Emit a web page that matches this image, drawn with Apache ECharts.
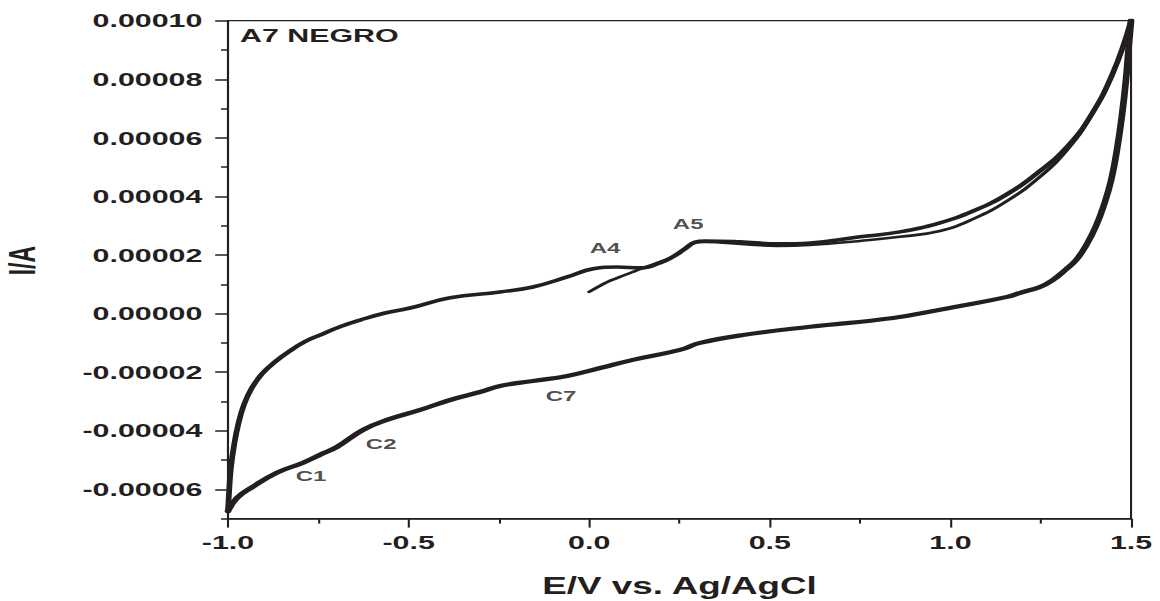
<!DOCTYPE html>
<html>
<head>
<meta charset="utf-8">
<script src="https://cdn.jsdelivr.net/npm/echarts@6/dist/echarts.min.js"></script>
<style>
html,body{margin:0;padding:0;background:#fff;overflow:hidden;}
#wrap{width:1160px;height:601px;overflow:hidden;position:relative;}
#chart{width:725px;height:601px;transform:scaleX(1.6);transform-origin:0 0;}
</style>
</head>
<body>
<div id="wrap"><div id="chart"></div></div>
<script>
// ---- data (E in V vs Ag/AgCl, I in A) ----
const scan1E = [0.00, 0.03, 0.05, 0.085, 0.12, 0.15, 0.195, 0.23, 0.265, 0.29, 0.32, 0.42, 0.52, 0.61, 0.75, 0.86, 0.971, 1.063, 1.157, 1.248, 1.323, 1.386, 1.45, 1.50];
const scan1I = [0.74e-5, 0.95e-5, 1.08e-5, 1.25e-5, 1.42e-5, 1.56e-5, 1.76e-5, 1.94e-5, 2.21e-5, 2.41e-5, 2.45e-5, 2.38e-5, 2.31e-5, 2.34e-5, 2.48e-5, 2.62e-5, 2.82e-5, 3.23e-5, 3.85e-5, 4.67e-5, 5.59e-5, 6.68e-5, 8.18e-5, 10.0e-5];

const reverseE = [1.50, 1.494, 1.486, 1.475, 1.461, 1.445, 1.425, 1.403, 1.378, 1.35, 1.32, 1.284, 1.248, 1.193, 1.157, 1.027, 0.971, 0.841, 0.611, 0.426, 0.307, 0.251, 0.121, 0.03, -0.061, -0.156, -0.247, -0.30, -0.385, -0.468, -0.56, -0.626, -0.698, -0.745, -0.792, -0.864, -0.931, -0.975, -1.00];
const reverseI = [10.0e-5, 9.17e-5, 7.98e-5, 6.78e-5, 5.59e-5, 4.56e-5, 3.71e-5, 2.99e-5, 2.38e-5, 1.86e-5, 1.51e-5, 1.15e-5, 0.91e-5, 0.71e-5, 0.57e-5, 0.26e-5, 0.13e-5, -0.15e-5, -0.45e-5, -0.73e-5, -1.00e-5, -1.24e-5, -1.58e-5, -1.86e-5, -2.13e-5, -2.30e-5, -2.47e-5, -2.67e-5, -2.95e-5, -3.29e-5, -3.63e-5, -3.97e-5, -4.55e-5, -4.82e-5, -5.09e-5, -5.43e-5, -5.91e-5, -6.29e-5, -6.75e-5];

const scan2E = [-1.00, -0.997, -0.992, -0.983, -0.972, -0.956, -0.934, -0.906, -0.870, -0.828, -0.787, -0.745, -0.690, -0.634, -0.565, -0.496, -0.385, -0.247, -0.156, -0.061, 0.011, 0.077, 0.141, 0.196, 0.232, 0.265, 0.293, 0.321, 0.417, 0.52, 0.611, 0.75, 0.86, 0.971, 1.063, 1.157, 1.248, 1.323, 1.386, 1.45, 1.50];
const scan2I = [-6.75e-5, -6.09e-5, -5.27e-5, -4.48e-5, -3.80e-5, -3.12e-5, -2.54e-5, -2.06e-5, -1.65e-5, -1.27e-5, -0.96e-5, -0.73e-5, -0.45e-5, -0.22e-5, 0.02e-5, 0.19e-5, 0.54e-5, 0.74e-5, 0.91e-5, 1.25e-5, 1.53e-5, 1.59e-5, 1.56e-5, 1.73e-5, 1.94e-5, 2.21e-5, 2.44e-5, 2.48e-5, 2.45e-5, 2.38e-5, 2.41e-5, 2.62e-5, 2.79e-5, 3.10e-5, 3.50e-5, 4.08e-5, 4.87e-5, 5.69e-5, 6.71e-5, 8.22e-5, 10.0e-5];

const annoNames = ['A4', 'A5', 'C1', 'C2', 'C7'];
const annoE = [0.044, 0.274, -0.770, -0.576, -0.078];
const annoI = [2.24e-5, 3.06e-5, -5.54e-5, -4.43e-5, -2.81e-5];

const xMinorTicks = [-0.75, -0.25, 0.25, 0.75, 1.25];
const yMajorTicks = [-0.00006, -0.00004, -0.00002, 0, 0.00002, 0.00004, 0.00006, 0.00008, 0.0001];
const yMinorTicks = [-0.00007, -0.00005, -0.00003, -0.00001, 0.00001, 0.00003, 0.00005, 0.00007, 0.00009];

const titleText = 'A7 NEGRO';
const xName = 'E/V vs. Ag/AgCl';
const yName = 'I/A';

// ---- chart ----
const INK = '#231f20';
const FONT = '"Liberation Sans", Arial, Helvetica, sans-serif';
const zip = (a, b) => a.map((v, i) => [v, b[i]]);

const chart = echarts.init(document.getElementById('chart'), null, {renderer: 'svg'});

const lineSeries = (E, I, w) => ({
  type: 'line',
  data: zip(E, I),
  showSymbol: false,
  symbol: 'none',
  smooth: 0.45,
  lineStyle: {color: INK, width: w, cap: 'round', join: 'round'},
  silent: true,
  z: 3
});

chart.setOption({
  animation: false,
  backgroundColor: '#fff',
  title: {
    text: titleText,
    left: 150, top: 26,
    padding: 0,
    textStyle: {fontFamily: FONT, fontWeight: 'bold', fontSize: 19, color: INK}
  },
  grid: {
    left: 142.5, right: 18.1, top: 20.7, bottom: 82.4,
    show: true, borderColor: INK, borderWidth: 1.3, backgroundColor: 'transparent',
    containLabel: false,
    outerBoundsMode: 'none'
  },
  xAxis: [{
    type: 'value', min: -1, max: 1.5, interval: 0.5, position: 'bottom',
    name: xName, nameLocation: 'middle', nameGap: 56,
    nameTextStyle: {fontFamily: FONT, fontWeight: 'bold', fontSize: 23, color: INK},
    axisLine: {show: true, onZero: false, lineStyle: {color: INK, width: 1.5}},
    axisTick: {show: true, inside: false, length: 9, lineStyle: {color: INK, width: 1.3}},
    axisLabel: {margin: 14, fontFamily: FONT, fontWeight: 'bold', fontSize: 19, color: INK,
      formatter: v => v.toFixed(1)},
    splitLine: {show: false}
  }, {
    type: 'value', min: -1, max: 1.5, position: 'bottom', offset: 0,
    axisLine: {show: false, onZero: false},
    axisTick: {show: true, inside: false, length: 5, customValues: xMinorTicks, lineStyle: {color: INK, width: 1.3}},
    axisLabel: {show: false},
    splitLine: {show: false}
  }],
  yAxis: [{
    type: 'value', min: -0.00007, max: 0.0001, position: 'left',
    name: yName, nameLocation: 'middle', nameRotate: 90, nameGap: 117,
    nameTextStyle: {fontFamily: FONT, fontWeight: 'bold', fontSize: 23, color: INK, padding: [0, 0, 0, 18]},
    axisLine: {show: true, onZero: false, lineStyle: {color: INK, width: 1.3}},
    axisTick: {show: true, inside: false, length: 8, customValues: yMajorTicks, lineStyle: {color: INK, width: 1.5}},
    axisLabel: {margin: 16, customValues: yMajorTicks, fontFamily: FONT, fontWeight: 'bold', fontSize: 19, color: INK,
      formatter: v => (Math.abs(v) < 1e-12 ? 0 : v).toFixed(5)},
    splitLine: {show: false}
  }, {
    type: 'value', min: -0.00007, max: 0.0001, position: 'left', offset: 0,
    axisLine: {show: false, onZero: false},
    axisTick: {show: true, inside: false, length: 4.4, customValues: yMinorTicks, lineStyle: {color: INK, width: 1.5}},
    axisLabel: {show: false},
    splitLine: {show: false}
  }],
  series: [
    lineSeries(reverseE, reverseI, 4.2),
    lineSeries(scan2E, scan2I, 3.6),
    lineSeries(scan1E, scan1I, 2.6),
    {
      type: 'scatter',
      data: annoNames.map((n, i) => ({name: n, value: [annoE[i], annoI[i]]})),
      symbolSize: 0,
      silent: true,
      label: {show: true, position: 'inside', formatter: p => p.name,
        fontFamily: FONT, fontWeight: 'bold', fontSize: 15, color: INK},
      z: 5
    }
  ]
});
</script>
</body>
</html>
